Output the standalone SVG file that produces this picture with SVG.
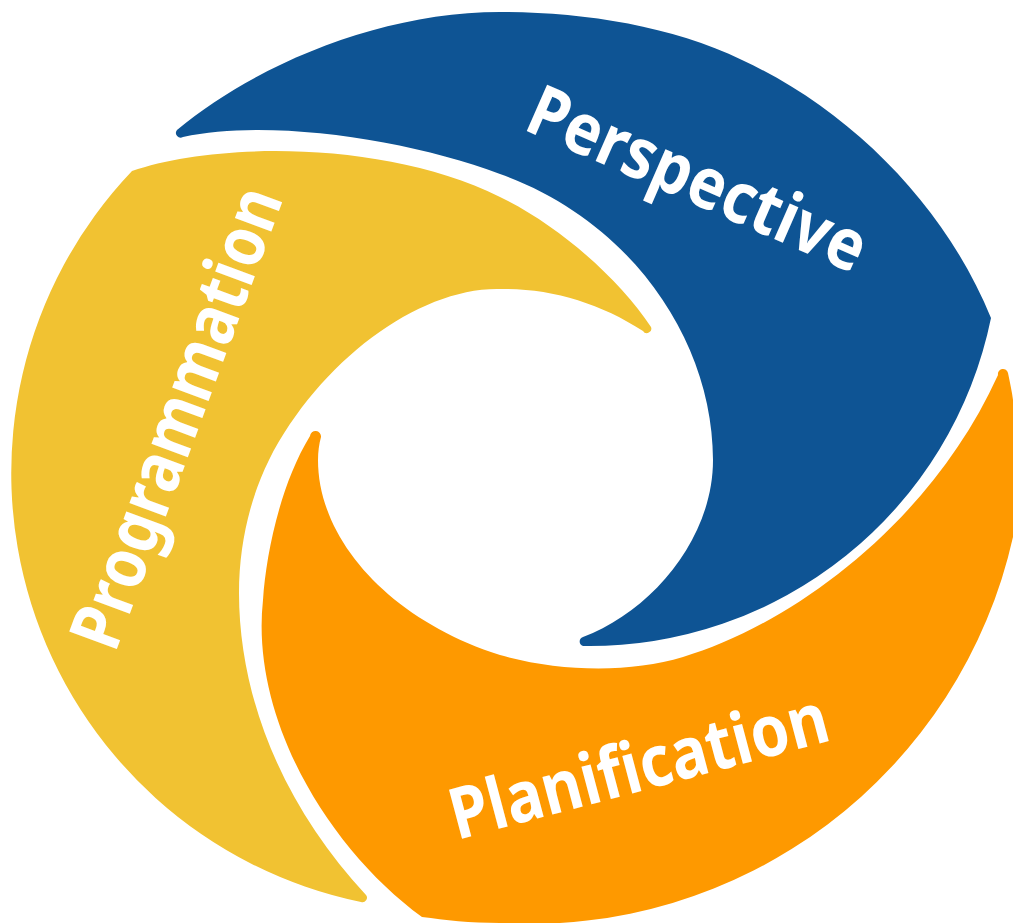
<svg xmlns="http://www.w3.org/2000/svg" width="1013" height="923" viewBox="0 0 1013 923">
<style>
.t{font-family:"Noto Sans","Open Sans",sans-serif;font-weight:700;fill:#fff;font-size:71px}
</style>
<rect width="1013" height="923" fill="#fff"/>
<g id="perspective">
<path fill="#0e5494" d="M177 130C255 65 380 12 500 12C580 12 670 25 742 60C850 110 945 205 991 318A410 410 0 0 1 583 646A4.700 4.700 0 0 1 583 637C650 612 713 540 713 460C713 340 630 220 500 174C410 140 270 118 183 137A4.700 4.700 0 0 1 177 130Z"/>
<text class="t" transform="translate(522 129) rotate(23.600)" textLength="362" lengthAdjust="spacingAndGlyphs">Perspective</text>
</g>
<g id="programmation">
<path fill="#f1c232" d="M132 171C215 142 385 140 500 197C560 226 620 280 651 327A4.500 4.500 0 0 1 643 331C600 303 550 288 500 289C420 287 320 360 269 460C250 498 239 545 239 593C239 700 285 808 366 895A4.500 4.500 0 0 1 361 902A438 438 0 0 1 132 171Z"/>
<text class="t" transform="translate(115 654) rotate(-69.700)" textLength="486" lengthAdjust="spacingAndGlyphs">Programmation</text>
</g>
<g id="planification">
<path fill="#fe9900" d="M321 437C319 444 318 452 318 460C318 540 390 620 500 655C560 672 630 673 683 657C790 625 930 525 998 375A5 5 0 0 1 1008 373C1010 383 1012 392 1013 400L1013 537A495 495 0 0 1 500 923C470 923 445 920 422 917C330 850 250 720 263 600C266 555 280 485 310 436A5.500 5.500 0 0 1 321 437Z"/>
<text class="t" transform="translate(457 840) rotate(-14.900)" textLength="389" lengthAdjust="spacingAndGlyphs">Planification</text>
</g>
</svg>
